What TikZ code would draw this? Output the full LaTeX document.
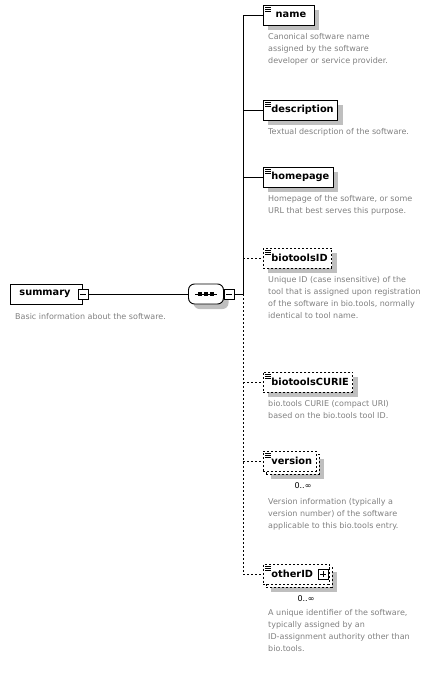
\documentclass[tikz,border=0pt]{standalone}
\usepackage{fontspec}
\setmainfont{DejaVu Sans}
\usetikzlibrary{shadows}

\begin{document}
\begin{tikzpicture}[x=1pt, y=-1pt,
	wire/.style={line width=0.9pt},
	dashes/.style={dash pattern=on 2pt off 2pt},
	doclines/.style={path picture={
		\foreach \k in {0,1,2}
			\draw [solid, line width=0.6pt] ([xshift=2pt, yshift={-(2.5+1.7*\k)*1pt}]path picture bounding box.north west) -- ++(6pt,0);}},
	dropgray/.style={drop shadow={shadow xshift=5pt, shadow yshift=-5pt, fill=black!25, opacity=1}},
	root/.style={draw, fill=white, line width=0.9pt, minimum height=20pt, inner xsep=4pt, anchor=west, font=\fontsize{9.8}{11}\selectfont\bfseries},
	elem/.style={root, minimum width=51pt, doclines},
	opt/.style={elem, dashes, line width=0.8pt},
	sqbox/.style={draw, solid, fill=white, line width=0.8pt, minimum size=10pt, inner sep=0pt},
	minus/.style={sqbox, path picture={
		\draw [solid, line width=0.8pt] ([xshift=2pt]path picture bounding box.west) -- ([xshift=-2pt]path picture bounding box.east);}},
	plus/.style={sqbox, path picture={
		\draw [solid, line width=0.8pt] ([xshift=2pt]path picture bounding box.west) -- ([xshift=-2pt]path picture bounding box.east);
		\draw [solid, line width=0.8pt] ([yshift=-2pt]path picture bounding box.north) -- ([yshift=2pt]path picture bounding box.south);}},
	compositor/.style={rectangle, rounded corners=6pt, draw, fill=white, line width=0.9pt, minimum width=35pt, minimum height=20pt, inner sep=0pt},
	note/.style={anchor=north west, align=left, inner sep=0pt, text=black!50, font=\fontsize{8}{12}\selectfont},
	occurs/.style={inner sep=0pt, font=\fontsize{8}{10}\selectfont}]
	\useasboundingbox (0,0) rectangle (434,683);

	% root element
	\node [root] (summary) at (10,294) {\hspace*{5pt}summary\hspace*{8pt}};
	\node [minus] (summarym) at (summary.east) {};
	\node [note] (summarynote) at (15,313) {Basic information about the software.};

	% sequence
	\node [compositor, dropgray] (seq) at (206,294) {};
	\draw [line width=0.8pt] (seq.center) ++(-11,0) -- ++(22,0);
	\foreach \dx in {-6,0,6}
		\fill (seq.center) ++(\dx-2,-2) rectangle ++(4,4);
	\node [minus] (seqm) at ([xshift=5pt]seq.east) {};
	\coordinate (bus) at (243,294);
	\draw [wire] (summarym) -- (seq);
	\draw [wire] (seqm) -- (bus);

	% children
	\node [elem, dropgray] (name) at (263,15) {\hspace*{4pt}name};
	\node [note] (namenote) at (268,33) {Canonical software name\\assigned by the software\\developer or service provider.};

	\node [elem, dropgray] (description) at (263,110) {\hspace*{4pt}description};
	\node [note] (descriptionnote) at (268,128) {Textual description of the software.};

	\node [elem, dropgray] (homepage) at (263,177) {\hspace*{4pt}homepage};
	\node [note] (homepagenote) at (268,195) {Homepage of the software, or some\\URL that best serves this purpose.};

	\node [opt, dropgray] (biotoolsid) at (263,258) {\hspace*{4pt}biotoolsID};
	\node [note] (biotoolsidnote) at (268,276) {Unique ID (case insensitive) of the\\tool that is assigned upon registration\\of the software in bio.tools, normally\\identical to tool name.};

	\node [opt, dropgray] (biotoolscurie) at (263,382) {\hspace*{4pt}biotoolsCURIE};
	\node [note] (biotoolscurienote) at (268,400) {bio.tools CURIE (compact URI)\\based on the bio.tools tool ID.};

	\node [opt, dropgray] (versionbk) at (266,464) {\hspace*{4pt}\phantom{version}};
	\node [opt] (version) at (263,461) {\hspace*{4pt}version};
	\node [occurs] (versionocc) at (303,486) {0..∞};
	\node [note] (versionnote) at (268,498) {Version information (typically a\\version number) of the software\\applicable to this bio.tools entry.};

	\node [opt, dropgray] (otheridbk) at (266,577) {\hspace*{4pt}\phantom{otherID}\hspace*{12pt}};
	\node [opt] (otherid) at (263,574) {\hspace*{4pt}otherID\hspace*{12pt}};
	\node [plus] (otheridp) at ([xshift=-6pt]otherid.east) {};
	\node [occurs] (otheridocc) at (306,599) {0..∞};
	\node [note] (otheridnote) at (268,609) {A unique identifier of the software,\\typically assigned by an\\ID-assignment authority other than\\bio.tools.};

	% connectors
	\draw [wire] (bus |- name.west) -- (bus);
	\draw [wire, dashes] (bus) -- (bus |- otherid.west);
	\foreach \n in {name, description, homepage}
		\draw [wire] (bus |- \n.west) -- (\n.west);
	\foreach \n in {biotoolsid, biotoolscurie, version, otherid}
		\draw [wire, dashes] (bus |- \n.west) -- (\n.west);
\end{tikzpicture}
\end{document}
